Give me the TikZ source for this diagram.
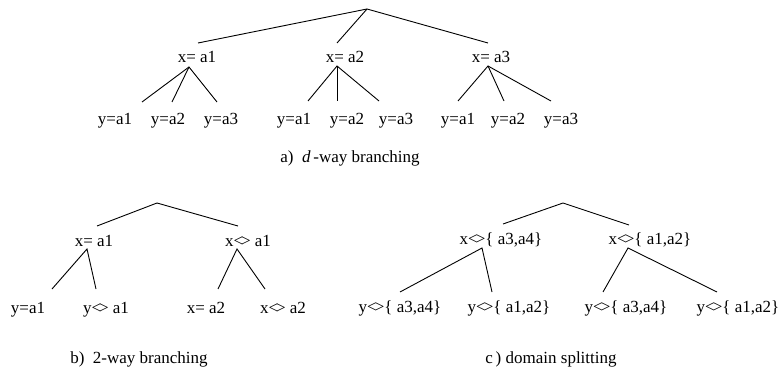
\documentclass[tikz,border=0pt]{standalone}
\usepackage{fontspec}
\setmainfont{Liberation Serif}
\newcommand{\dne}{<\kern-0.12em>}
\begin{document}
\begin{tikzpicture}[x=1pt,y=-1pt,
  lab/.style={inner sep=0pt, anchor=base, font=\fontsize{17}{20}\selectfont},
  edge/.style={draw=black, line width=0.9pt}]
\useasboundingbox (0,0) rectangle (783,371);
% ---------- panel a ----------
\node[lab] (xa1) at (197,63) {x= a1};
\node[lab] (xa2) at (345,63) {x= a2};
\node[lab] (xa3) at (491,63) {x= a3};
\node[lab] (ya11) at (115,124.5) {y=a1};
\node[lab] (ya12) at (168,124.5) {y=a2};
\node[lab] (ya13) at (221,124.5) {y=a3};
\node[lab] (ya21) at (294,124.5) {y=a1};
\node[lab] (ya22) at (347,124.5) {y=a2};
\node[lab] (ya23) at (396,124.5) {y=a3};
\node[lab] (ya31) at (458,124.5) {y=a1};
\node[lab] (ya32) at (508,124.5) {y=a2};
\node[lab] (ya33) at (561,124.5) {y=a3};
\node[lab] (capa) at (350,163) {a)\ \ \textit{d}\,-way branching};
\coordinate (ra) at (367,9);
\coordinate (xa1t) at (198,43);
\coordinate (xa2t) at (337,43);
\coordinate (xa3t) at (488,43);
\coordinate (xa1b) at (189,67);
\coordinate (xa2b) at (337,66);
\coordinate (xa3b) at (488,66);
\coordinate (ya11t) at (142,102);
\coordinate (ya12t) at (172,102);
\coordinate (ya13t) at (217,102);
\coordinate (ya21t) at (308,101);
\coordinate (ya22t) at (337,101);
\coordinate (ya23t) at (379,101);
\coordinate (ya31t) at (458,101);
\coordinate (ya32t) at (504,101);
\coordinate (ya33t) at (551,101);
\draw[edge] (xa1t) -- (ra) -- (xa3t);
\draw[edge] (ra) -- (xa2t);
\draw[edge] (ya11t) -- (xa1b) -- (ya13t);
\draw[edge] (xa1b) -- (ya12t);
\draw[edge] (ya21t) -- (xa2b) -- (ya23t);
\draw[edge] (xa2b) -- (ya22t);
\draw[edge] (ya31t) -- (xa3b) -- (ya33t);
\draw[edge] (xa3b) -- (ya32t);
% ---------- panel b ----------
\node[lab] (xb1) at (94,246.5) {x= a1};
\node[lab] (xb2) at (248,246.5) {x\dne\ a1};
\node[lab] (yb11) at (28,313) {y=a1};
\node[lab] (yb12) at (106,313) {y\dne\ a1};
\node[lab] (yb21) at (206,313) {x= a2};
\node[lab] (yb22) at (283,313) {x\dne\ a2};
\node[lab] (capb) at (139,363) {b)\ \ 2-way branching};
\coordinate (rb) at (157,203);
\coordinate (xb1t) at (97,226);
\coordinate (xb2t) at (238,226);
\coordinate (xb1b) at (87,249);
\coordinate (xb2b) at (237,249);
\coordinate (yb11t) at (52,289);
\coordinate (yb12t) at (96,289);
\coordinate (yb21t) at (218,289);
\coordinate (yb22t) at (265,289);
\draw[edge] (xb1t) -- (rb) -- (xb2t);
\draw[edge] (yb11t) -- (xb1b) -- (yb12t);
\draw[edge] (yb21t) -- (xb2b) -- (yb22t);
% ---------- panel c ----------
\node[lab] (xc1) at (501,244.5) {x\dne\{ a3,a4\}};
\node[lab] (xc2) at (650,244.5) {x\dne\{ a1,a2\}};
\node[lab] (yc11) at (400,312) {y\dne\{ a3,a4\}};
\node[lab] (yc12) at (509,312) {y\dne\{ a1,a2\}};
\node[lab] (yc21) at (626,312) {y\dne\{ a3,a4\}};
\node[lab] (yc22) at (738,312) {y\dne\{ a1,a2\}};
\node[lab] (capc) at (551,363) {c\,) domain splitting};
\coordinate (rc) at (563,203);
\coordinate (xc1t) at (503,224);
\coordinate (xc2t) at (629,225);
\coordinate (xc1b) at (482,248);
\coordinate (xc2b) at (628,248);
\coordinate (yc11t) at (400,292);
\coordinate (yc12t) at (492,292);
\coordinate (yc21t) at (603,292);
\coordinate (yc22t) at (717,292);
\draw[edge] (xc1t) -- (rc) -- (xc2t);
\draw[edge] (yc11t) -- (xc1b) -- (yc12t);
\draw[edge] (yc21t) -- (xc2b) -- (yc22t);
\end{tikzpicture}
\end{document}
